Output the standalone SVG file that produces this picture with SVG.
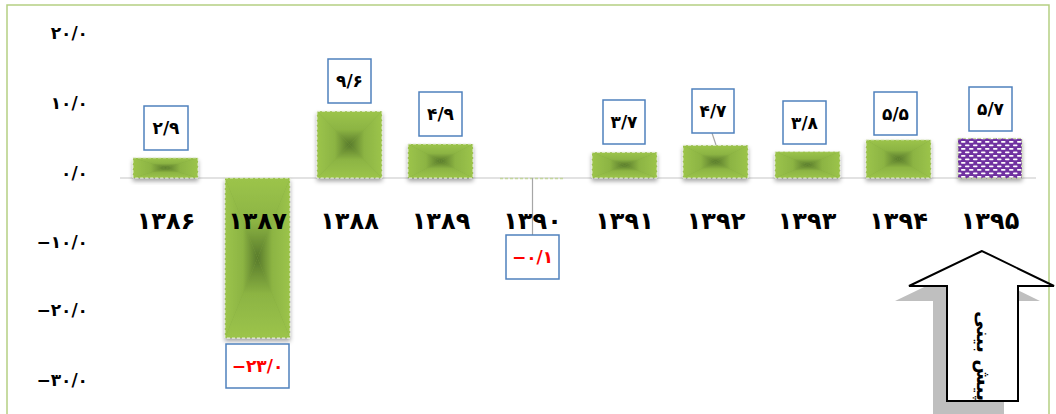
<svg xmlns="http://www.w3.org/2000/svg" width="1056" height="414" viewBox="0 0 1056 414">
<style>
.frame{fill:none;stroke:#b5d082;stroke-width:1.5}
.axis{font-family:"DejaVu Sans",sans-serif;font-weight:bold;font-size:17px;fill:#000;text-anchor:end}
.year{font-family:"DejaVu Sans",sans-serif;font-weight:bold;font-size:24px;fill:#000;text-anchor:middle}
.lbl{font-family:"DejaVu Sans",sans-serif;font-weight:bold;font-size:17px;fill:#000;text-anchor:middle;dominant-baseline:central}
.neg{fill:#ff0000}
.box{fill:#fff;stroke:#4f81bd;stroke-width:1.5}
.edge{fill:none;stroke:#e4ecd2;stroke-width:1;stroke-dasharray:3 2}
.lead{stroke:#a6a6a6;stroke-width:1.2}
</style>
<defs>
<linearGradient id="gT" x1="0" y1="0" x2="0" y2="1"><stop offset="0" stop-color="#9cc44b"/><stop offset="0.55" stop-color="#8cb443"/><stop offset="1" stop-color="#587a2b"/></linearGradient>
<linearGradient id="gB" x1="0" y1="1" x2="0" y2="0"><stop offset="0" stop-color="#9cc44b"/><stop offset="0.55" stop-color="#8cb443"/><stop offset="1" stop-color="#587a2b"/></linearGradient>
<linearGradient id="gL" x1="0" y1="0" x2="1" y2="0"><stop offset="0" stop-color="#9cc44b"/><stop offset="0.55" stop-color="#8cb443"/><stop offset="1" stop-color="#587a2b"/></linearGradient>
<linearGradient id="gR" x1="1" y1="0" x2="0" y2="0"><stop offset="0" stop-color="#9cc44b"/><stop offset="0.55" stop-color="#8cb443"/><stop offset="1" stop-color="#587a2b"/></linearGradient>
<symbol id="pyr" viewBox="0 0 100 100" preserveAspectRatio="none">
<rect width="100" height="100" fill="#84ab3f"/>
<polygon points="0,0 100,0 50,50" fill="url(#gT)"/>
<polygon points="0,100 100,100 50,50" fill="url(#gB)"/>
<polygon points="0,0 0,100 50,50" fill="url(#gL)"/>
<polygon points="100,0 100,100 50,50" fill="url(#gR)"/>
</symbol>
<pattern id="dots" width="8" height="7" patternUnits="userSpaceOnUse">
<rect width="8" height="7" fill="#7030a0"/>
<rect x="1" y="1" width="4.5" height="1.8" rx="0.8" fill="#fff"/>
<rect x="5" y="4.5" width="4.5" height="1.8" rx="0.8" fill="#fff"/>
<rect x="-3" y="4.5" width="4.5" height="1.8" rx="0.8" fill="#fff"/>
</pattern>
<filter id="sh" x="-20%" y="-20%" width="140%" height="150%">
<feDropShadow dx="0" dy="3" stdDeviation="2" flood-color="#000" flood-opacity="0.35"/>
</filter>
</defs>

<g id="frame">
<polyline class="frame" points="7,414 7,5 1049,5 1049,414"/>
</g>

<g id="axis">
<text class="axis" x="88" y="39">۲۰/۰</text>
<text class="axis" x="88" y="109">۱۰/۰</text>
<text class="axis" x="88" y="179">۰/۰</text>
<text class="axis" x="88" y="248">−۱۰/۰</text>
<text class="axis" x="88" y="316">−۲۰/۰</text>
<text class="axis" x="88" y="386">−۳۰/۰</text>
<line x1="120" y1="178" x2="1036" y2="178" stroke="#d9d9d9" stroke-width="1.5"/>
</g>

<g id="bars">
<g id="bar1386" filter="url(#sh)"><use href="#pyr" x="133" y="157.8" width="65" height="20.2"/><rect class="edge" x="133" y="157.8" width="65" height="20.2"/></g>
<g id="bar1387" filter="url(#sh)"><use href="#pyr" x="225" y="178" width="65" height="160"/><rect class="edge" x="225" y="178" width="65" height="160"/></g>
<g id="bar1388" filter="url(#sh)"><use href="#pyr" x="317" y="111.3" width="65" height="66.7"/><rect class="edge" x="317" y="111.3" width="65" height="66.7"/></g>
<g id="bar1389" filter="url(#sh)"><use href="#pyr" x="408" y="144" width="65" height="34"/><rect class="edge" x="408" y="144" width="65" height="34"/></g>
<g id="bar1390"><line x1="500" y1="178.5" x2="565" y2="178.5" stroke="#c3d69b" stroke-width="1.5" stroke-dasharray="3 2"/></g>
<g id="bar1391" filter="url(#sh)"><use href="#pyr" x="592" y="152.3" width="65" height="25.7"/><rect class="edge" x="592" y="152.3" width="65" height="25.7"/></g>
<g id="bar1392" filter="url(#sh)"><use href="#pyr" x="683" y="145.3" width="65" height="32.7"/><rect class="edge" x="683" y="145.3" width="65" height="32.7"/></g>
<g id="bar1393" filter="url(#sh)"><use href="#pyr" x="775" y="151.6" width="65" height="26.4"/><rect class="edge" x="775" y="151.6" width="65" height="26.4"/></g>
<g id="bar1394" filter="url(#sh)"><use href="#pyr" x="866" y="139.8" width="65" height="38.2"/><rect class="edge" x="866" y="139.8" width="65" height="38.2"/></g>
<g id="bar1395" filter="url(#sh)"><rect x="958" y="138.4" width="64" height="39.6" fill="url(#dots)"/><rect x="958" y="138.4" width="64" height="39.6" fill="none" stroke="#c3d69b" stroke-width="1" stroke-dasharray="3 2"/></g>
</g>

<g id="connectors">
<line class="lead" x1="532.5" y1="178" x2="532.5" y2="235"/>
<line class="lead" x1="712" y1="133" x2="716" y2="145"/>
</g>

<g id="years">
<text class="year" x="166" y="229">۱۳۸۶</text>
<text class="year" x="257.5" y="229">۱۳۸۷</text>
<text class="year" x="349.5" y="229">۱۳۸۸</text>
<text class="year" x="441" y="229">۱۳۸۹</text>
<text class="year" x="532.5" y="229">۱۳۹۰</text>
<text class="year" x="624.5" y="229">۱۳۹۱</text>
<text class="year" x="716" y="229">۱۳۹۲</text>
<text class="year" x="807" y="229">۱۳۹۳</text>
<text class="year" x="898.5" y="229">۱۳۹۴</text>
<text class="year" x="990" y="229">۱۳۹۵</text>
</g>

<g id="labels">
<g id="lbl1386"><rect class="box" x="144" y="106" width="44" height="44"/><text class="lbl" x="166" y="128">۲/۹</text></g>
<g id="lbl1387"><rect class="box" x="226" y="344" width="63" height="44"/><text class="lbl neg" x="257.5" y="366">−۲۳/۰</text></g>
<g id="lbl1388"><rect class="box" x="328" y="59" width="43" height="44"/><text class="lbl" x="349.5" y="81">۹/۶</text></g>
<g id="lbl1389"><rect class="box" x="419" y="92" width="43" height="44"/><text class="lbl" x="440.5" y="114">۴/۹</text></g>
<g id="lbl1390"><rect class="box" x="506" y="235" width="53" height="44"/><text class="lbl neg" x="532.5" y="257">−۰/۱</text></g>
<g id="lbl1391"><rect class="box" x="603" y="100" width="42" height="44"/><text class="lbl" x="624" y="122">۳/۷</text></g>
<g id="lbl1392"><rect class="box" x="692" y="89" width="42" height="44"/><text class="lbl" x="713" y="111">۴/۷</text></g>
<g id="lbl1393"><rect class="box" x="783" y="101" width="43" height="43"/><text class="lbl" x="804.5" y="122.5">۳/۸</text></g>
<g id="lbl1394"><rect class="box" x="874" y="92" width="43" height="43"/><text class="lbl" x="895.5" y="113.5">۵/۵</text></g>
<g id="lbl1395"><rect class="box" x="969" y="87" width="43" height="44"/><text class="lbl" x="990.5" y="109">۵/۷</text></g>
</g>

<g id="forecast-arrow">
<polygon points="968,266 895,301 933,301 933,416 1004,416 1004,301 1040,301" fill="#bfbfbf"/>
<polygon points="982,251 909,286 947,286 947,401 1018,401 1018,286 1054,286" fill="#fff" stroke="#000" stroke-width="2" stroke-linejoin="miter"/>
<text x="0" y="0" transform="translate(984,356) rotate(90)" font-family="DejaVu Sans, sans-serif" font-weight="bold" font-size="19" text-anchor="middle" dominant-baseline="central" direction="rtl">پیش بینی</text>
</g>
</svg>
